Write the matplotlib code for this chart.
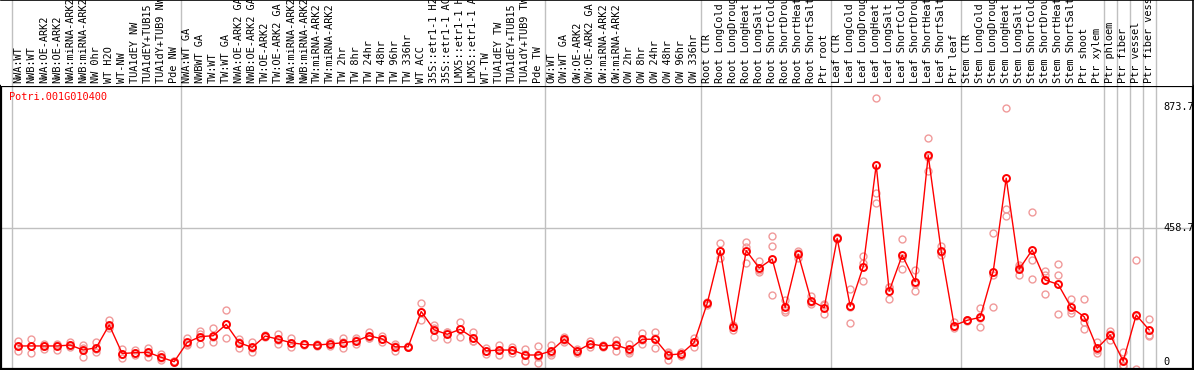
import matplotlib.pyplot as plt
import numpy as np

# sample labels (as shown, truncated in the original)
labels = [
    "NWA:WT", "NWB:WT", "NWA:OE-ARK2", "NWB:OE-ARK2", "NWA:miRNA-ARK2", "NWB:miRNA-ARK2",
    "NW 0hr", "WT H2O", "WT-NW", "TUA1dEY NW", "TUA1dEY+TUB15", "TUA1dY+TUB9 NW", "Pde NW",
    "NWA:WT GA", "NWBWT GA", "TW:WT", "TW:WT GA", "NWA:OE-ARK2 GA", "NWB:OE-ARK2 GA",
    "TW:OE-ARK2", "TW:OE-ARK2 GA", "NWA:miRNA-ARK2", "NWB:miRNA-ARK2", "TW:miRNA-ARK2",
    "TW:miRNA-ARK2", "TW 2hr", "TW 8hr", "TW 24hr", "TW 48hr", "TW 96hr", "TW 336hr",
    "WT ACC", "35S::etr1-1 H2", "35S::etr1-1 AC", "LMX5::etr1-1 H", "LMX5::etr1-1 A",
    "WT-TW", "TUA1dEY TW", "TUA1dEY+TUB15", "TUA1dY+TUB9 TW", "Pde TW",
    "OW:WT", "OW:WT GA", "OW:OE-ARK2", "OW:OE-ARK2 GA", "OW:miRNA-ARK2", "OW:miRNA-ARK2",
    "OW 2hr", "OW 8hr", "OW 24hr", "OW 48hr", "OW 96hr", "OW 336hr",
    "Root CTR", "Root LongCold", "Root LongDroug", "Root LongHeat", "Root LongSalt",
    "Root ShortCold", "Root ShortDrou", "Root ShortHeat", "Root ShortSalt", "Ptr root",
    "Leaf CTR", "Leaf LongCold", "Leaf LongDroug", "Leaf LongHeat", "Leaf LongSalt",
    "Leaf ShortCold", "Leaf ShortDrou", "Leaf ShortHeat", "Leaf ShortSalt", "Ptr leaf",
    "Stem CTR", "Stem LongCold", "Stem LongDroug", "Stem LongHeat", "Stem LongSalt",
    "Stem ShortCold", "Stem ShortDrou", "Stem ShortHeat", "Stem ShortSalt", "Ptr shoot",
    "Ptr xylem", "Ptr phloem", "Ptr fiber", "Ptr vessel", "Ptr fiber vess",
]

# mean expression per sample
means = [
    55, 55, 55, 55, 58, 41, 49, 127, 29, 32, 33, 16, 1,
    67, 87, 90, 129, 66, 50, 89, 78, 66, 60, 58, 62, 66, 72, 90, 79, 52, 52,
    173, 110, 95, 112, 83, 38, 41, 41, 24, 24,
    38, 78, 38, 62, 55, 58, 43, 78, 78, 24, 28, 67,
    201, 382, 119, 382, 322, 353, 187, 370, 210, 186,
    424, 191, 327, 675, 243, 366, 275, 708, 381, 125,
    143, 153, 310, 630, 318, 384, 281, 266, 187, 155, 47,
    93, 3, 161, 110,
]

# replicates
rep_a = [
    72, 79, 63, 63, 70, 58, 67, 144, 46, 41, 49, 28, 3,
    81, 106, 116, 177, 79, 67, 91, 95, 81, 62, 60, 67, 83, 81, 104, 89, 61, 54,
    202, 127, 104, 138, 104, 49, 58, 52, 43, 55,
    58, 87, 46, 71, 57, 75, 60, 98, 104, 35, 35, 81,
    205, 409, 126, 413, 345, 432, 212, 381, 227, 198,
    428, 250, 363, 904, 258, 422, 315, 767, 398, 136,
    145, 186, 441, 872, 324, 513, 313, 335, 216, 215, 70,
    106, 35, 350, 146,
]
rep_b = [
    55, 55, 55, 58, 52, 17, 35, 115, 14, 24, 18, 7, 0,
    58, 60, 70, 81, 49, 35, 87, 63, 52, 58, 56, 56, 47, 61, 83, 70, 39, 50,
    144, 85, 79, 86, 72, 28, 24, 30, 3, -3,
    24, 70, 30, 52, 53, 38, 31, 60, 47, 6, 21, 52,
    197, 358, 110, 339, 307, 398, 172, 355, 198, 163,
    420, 133, 277, 578, 215, 319, 243, 655, 367, 115,
    141, 121, 190, 525, 298, 350, 233, 298, 167, 138, 30,
    77, -15, 157, 90,
]
rep_c = [
    37, 32, 46, 42, 58, 48, 45, 122, 27, 31, 32, 13, 2,
    62, 95, 84, 129, 70, 48, 89, 76, 65, 60, 58, 63, 68, 74, 83, 78, 56, 52,
    173, 118, 102, 112, 73, 37, 41, 41, 26, 18,
    32, 77, 38, 63, 55, 61, 38, 76, 83, 31, 28, 68,
    201, 379, 121, 394, 314, 229, 177, 374, 205, 197,
    424, 190, 341, 544, 256, 357, 267, 702, 378, 124,
    143, 152, 298, 500, 332, 283, 297, 165, 179, 113, 41,
    96, -10, -24, 94,
]

# last sample index of each group (vertical separators)
group_ends = [-1, 12, 40, 52, 62, 72, 83, 84, 85, 86, 87]

gene = "Potri.001G010400"
ytick_vals = [0, 458.7, 873.7]
ytick_text = ["0", "458.7", "873.7"]

plt.rcParams['font.family'] = 'DejaVu Sans Mono'
W, H = 1194, 370
fig = plt.figure(figsize=(W / 100, H / 100), dpi=100)

x = np.arange(len(labels))
xlim = ((1 - 18.2) / 13, (1193 - 18.2) / 13)

# plot panel
ax = fig.add_axes([1 / W, 1 / H, 1192 / W, 283 / H])
ax.set_xlim(*xlim)
ax.set_ylim(-24, 946)
for g in group_ends:
    ax.axvline(g + 0.5, color="#c0c0c0", lw=1, zorder=1)
ax.axhline(458.7, color="#c0c0c0", lw=1, zorder=1)

for reps in (rep_a, rep_b, rep_c):
    ax.plot(x, reps, "o", ms=5, mfc="none", mec="#f09a9a", mew=1, zorder=2)
ax.plot(x, means, "-", color="red", lw=1, zorder=3)
ax.plot(x, means, "o", ms=5, mfc="none", mec="red", mew=1.4, zorder=4)

for v, t in zip(ytick_vals, ytick_text):
    ax.text((1163 - 18.2) / 13, v, t, ha="left", va="center", fontsize=7.4, color="black")
ax.text(0.007, 0.96, gene, transform=ax.transAxes, ha="left", va="center",
        fontsize=7.4, color="red")
ax.set_xticks([])
ax.set_yticks([])
for s in ax.spines.values():
    s.set_linewidth(1.6)
    s.set_color("black")

# header with sample names
axh = fig.add_axes([1 / W, 284 / H, 1192 / W, 86 / H])
axh.set_xlim(*xlim)
axh.set_ylim(0, 86)
for g in group_ends:
    axh.axvline(g + 0.5, color="#c0c0c0", lw=1)
for i, lab in enumerate(labels):
    axh.text(i, 3, lab, rotation=90, ha="center", va="bottom", fontsize=7.4,
             color="black", clip_on=True)
axh.set_xticks([])
axh.set_yticks([])
axh.spines["left"].set_visible(False)
axh.spines["bottom"].set_visible(False)
axh.spines["top"].set_linewidth(1.2)
axh.spines["right"].set_linewidth(1.2)

fig.savefig("out.png", dpi=100)
